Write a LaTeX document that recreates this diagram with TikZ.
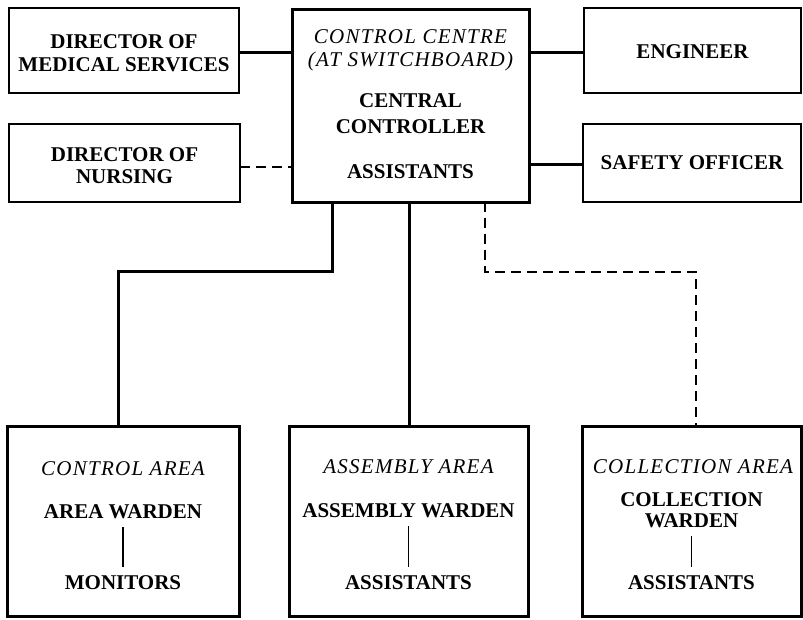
\documentclass[tikz,border=0pt]{standalone}
\usepackage{fontspec}
\setmainfont{Liberation Serif}
\begin{document}
\begin{tikzpicture}[x=1pt,y=-1pt,
  thinbox/.style={draw,line width=2pt,inner sep=0pt,outer sep=0pt},
  thickbox/.style={draw,line width=3pt,inner sep=0pt,outer sep=0pt},
  conn/.style={line width=3pt},
  dconn/.style={line width=1.8pt,dash pattern=on 10pt off 6pt},
  sub/.style={line width=1.1pt,shorten <=8pt,shorten >=9pt},
  bl/.style={font=\bfseries\fontsize{21}{23}\selectfont,align=center,inner sep=0pt},
  it/.style={font=\itshape\fontsize{21}{23}\selectfont\addfontfeature{LetterSpace=6},align=center,inner sep=0pt}]
\useasboundingbox (0,0) rectangle (803,619);

% boxes
\node[thinbox,minimum width=230pt,minimum height=85pt] (dms) at (124,50.5) {};
\node[thinbox,minimum width=231pt,minimum height=78pt] (don) at (124.5,163) {};
\node[thickbox,minimum width=237pt,minimum height=193pt] (cc) at (410.5,105.5) {};
\node[thinbox,minimum width=217pt,minimum height=85pt] (eng) at (692.5,50.5) {};
\node[thinbox,minimum width=218pt,minimum height=78pt] (saf) at (692,163) {};
\node[thickbox,minimum width=232pt,minimum height=190pt] (b1) at (123,521.5) {};
\node[thickbox,minimum width=239pt,minimum height=190pt] (b2) at (408.5,521.5) {};
\node[thickbox,minimum width=219pt,minimum height=190pt] (b3) at (691.5,521.5) {};

% texts
\node[bl] (tdms) at (124,53.5) {DIRECTOR OF\\MEDICAL SERVICES};
\node[bl,font=\bfseries\fontsize{21}{22}\selectfont] (tdon) at (124.5,166) {DIRECTOR OF\\NURSING};
\node[it] (tcc) at (410.5,50.5) {CONTROL CENTRE\\(AT SWITCHBOARD)};
\node[bl,font=\bfseries\fontsize{21}{26}\selectfont] (tctl) at (410.5,114) {CENTRAL\\CONTROLLER};
\node[bl] (tass) at (410.5,172) {ASSISTANTS};
\node[bl] (teng) at (692.5,52) {ENGINEER};
\node[bl] (tsaf) at (692,163) {SAFETY OFFICER};

\node[it] (ca) at (123,469) {CONTROL AREA};
\node[bl] (aw) at (123,512) {AREA WARDEN};
\node[bl] (mon) at (123,583) {MONITORS};
\draw[sub] (aw.south) -- (mon.north);

\node[it] (aa) at (408.5,467) {ASSEMBLY AREA};
\node[bl] (asw) at (408.5,511) {ASSEMBLY WARDEN};
\node[bl] (as2) at (408.5,583) {ASSISTANTS};
\draw[sub] (asw.south) -- (as2.north);

\node[it] (cla) at (693,467) {COLLECTION AREA};
\node[bl,font=\bfseries\fontsize{21}{21}\selectfont] (cw) at (691.5,510) {COLLECTION\\WARDEN};
\node[bl] (as3) at (691.5,583) {ASSISTANTS};
\draw[sub] (cw.south) -- (as3.north);

% connectors
\draw[conn] (dms.east |- 0,52) -- (cc.west |- 0,52);
\draw[dconn] (don.east |- 0,167) -- (cc.west |- 0,167);
\draw[conn] (cc.east |- 0,52) -- (eng.west |- 0,52);
\draw[conn] (cc.east |- 0,164) -- (saf.west |- 0,164);

\coordinate (k1) at (332,271);
\coordinate (k1b) at (118,271);
\draw[conn] (cc.south -| k1) -- (k1) -- (k1b) -- (b1.north -| k1b);
\coordinate (k2) at (409,300);
\draw[conn] (cc.south -| k2) -- (b2.north -| k2);
\coordinate (k3) at (485,272);
\coordinate (k3b) at (696,272);
\draw[dconn] (cc.south -| k3) -- (k3) -- (k3b) -- (b3.north -| k3b);
\end{tikzpicture}
\end{document}
